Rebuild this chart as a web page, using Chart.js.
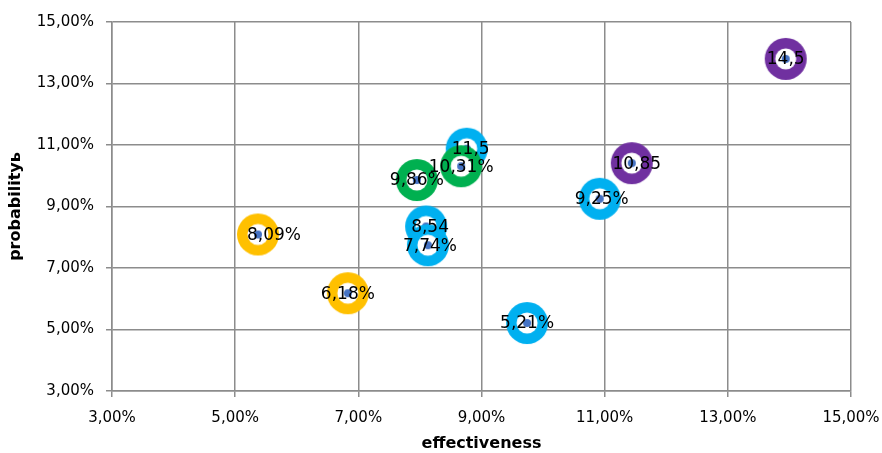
<!DOCTYPE html>
<html>
<head>
<meta charset="utf-8">
<script src="https://cdn.jsdelivr.net/npm/chart.js@4.4.1/dist/chart.umd.min.js"></script>
<style>
  html, body { margin: 0; padding: 0; background: #fff; }
  #wrap { width: 882px; height: 453px; }
</style>
</head>
<body>
<div id="wrap"><canvas id="glapharea" width="882" height="453"></canvas></div>
<script>
// effectiveness (x) / probability (y), in percent
var yellowX = [5.37, 6.83];
var yellowY = [8.09, 6.18];
var yellowLabels = ["8,09%", "6,18%"];

var greenX = [7.95, 8.67];
var greenY = [9.86, 10.31];
var greenLabels = ["9,86%", "10,31%"];

var blueX = [8.76, 8.1, 8.13, 10.92, 9.74];
var blueY = [10.88, 8.35, 7.74, 9.25, 5.21];
var blueLabels = ["11,5", "8,54", "7,74%", "9,25%", "5,21%"];

var purpleX = [11.44, 13.94];
var purpleY = [10.41, 13.8];
var purpleLabels = ["10,85", "14,5"];

var axisTicks = [3, 5, 7, 9, 11, 13, 15];

function makePoints(xs, ys) {
    var hairetu = [];
    for (var i = 0; i < xs.length; i++) {
        hairetu.push({x: xs[i], y: ys[i]});
    }
    return hairetu;
}

// ring marker with a small blue dot in the middle
function ringImage(color) {
    var c = document.createElement("canvas");
    c.width = 44;
    c.height = 44;
    var g = c.getContext("2d");
    g.beginPath();
    g.arc(22, 22, 21, 0, Math.PI * 2);
    g.fillStyle = color;
    g.fill();
    g.beginPath();
    g.arc(22, 22, 10.5, 0, Math.PI * 2);
    g.fillStyle = "#ffffff";
    g.fill();
    g.beginPath();
    g.arc(22, 22, 4, 0, Math.PI * 2);
    g.fillStyle = "#4472C4";
    g.fill();
    return c;
}

function pct(v) {
    return v.toFixed(2).replace(".", ",") + "%";
}

// draws the text labels on top of every marker
var pointLabels = {
    id: "pointLabels",
    afterDatasetsDraw: function(chart) {
        var ctx = chart.ctx;
        ctx.save();
        ctx.font = "17px 'DejaVu Sans'";
        ctx.fillStyle = "#000";
        ctx.textAlign = "center";
        ctx.textBaseline = "middle";
        chart.data.datasets.forEach(function(ds, i) {
            var meta = chart.getDatasetMeta(i);
            meta.data.forEach(function(pt, j) {
                var dx = ds.labelDx ? ds.labelDx[j] : 0;
                ctx.fillText(ds.labels[j], pt.x + dx, pt.y + 1);
            });
        });
        ctx.restore();
    }
};

var gridColor = "#8c8c8c";

var glapharea = document.getElementById("glapharea").getContext("2d");
var glaph = new Chart(glapharea, {
    type: "scatter",
    data: {
        datasets: [
            { label: "green", data: makePoints(greenX, greenY), labels: greenLabels, pointStyle: ringImage("#00B050"), order: 0 },
            { label: "yellow", data: makePoints(yellowX, yellowY), labels: yellowLabels, labelDx: [16, 0], pointStyle: ringImage("#FFC000"), order: 1 },
            { label: "purple", data: makePoints(purpleX, purpleY), labels: purpleLabels, labelDx: [5, 0], pointStyle: ringImage("#7030A0"), order: 2 },
            { label: "blue", data: makePoints(blueX, blueY), labels: blueLabels, labelDx: [4, 4, 2, 2, 0], pointStyle: ringImage("#00B0F0"), order: 3 }
        ]
    },
    options: {
        responsive: false,
        animation: false,
        events: [],
        layout: { padding: { top: 22, right: 31, bottom: 0, left: 0 } },
        plugins: {
            legend: { display: false },
            tooltip: { enabled: false }
        },
        scales: {
            x: {
                type: "linear",
                min: 3, max: 15,
                afterBuildTicks: function(axis) {
                    axis.ticks = axisTicks.map(function(v) { return {value: v}; });
                },
                grid: { color: gridColor, lineWidth: 1.5, tickLength: 6, drawOnChartArea: true },
                border: { color: gridColor, width: 1.5 },
                ticks: {
                    color: "#000",
                    font: { family: "DejaVu Sans", size: 15 },
                    padding: 12,
                    maxRotation: 0,
                    callback: function(v) { return pct(v); }
                },
                title: {
                    display: true,
                    text: "effectiveness",
                    color: "#000",
                    font: { family: "DejaVu Sans", size: 16, weight: "bold" },
                    padding: { top: 6, bottom: 0 }
                },
                afterFit: function(axis) {
                    axis.height = 62;
                    axis.paddingLeft = 0;
                    axis.paddingRight = 0;
                }
            },
            y: {
                type: "linear",
                min: 3, max: 15,
                afterBuildTicks: function(axis) {
                    axis.ticks = axisTicks.map(function(v) { return {value: v}; });
                },
                grid: { color: gridColor, lineWidth: 1.5, tickLength: 6 },
                border: { color: gridColor, width: 1.5 },
                ticks: {
                    color: "#000",
                    font: { family: "DejaVu Sans", size: 15 },
                    padding: 12,
                    callback: function(v) { return pct(v); }
                },
                title: {
                    display: true,
                    text: "probabilityь",
                    color: "#000",
                    font: { family: "DejaVu Sans", size: 16, weight: "bold" },
                    padding: { top: 6, bottom: 0 }
                },
                afterFit: function(axis) {
                    axis.width = 112;
                    axis.paddingTop = 0;
                    axis.paddingBottom = 0;
                }
            }
        }
    },
    plugins: [pointLabels]
});
</script>
</body>
</html>
